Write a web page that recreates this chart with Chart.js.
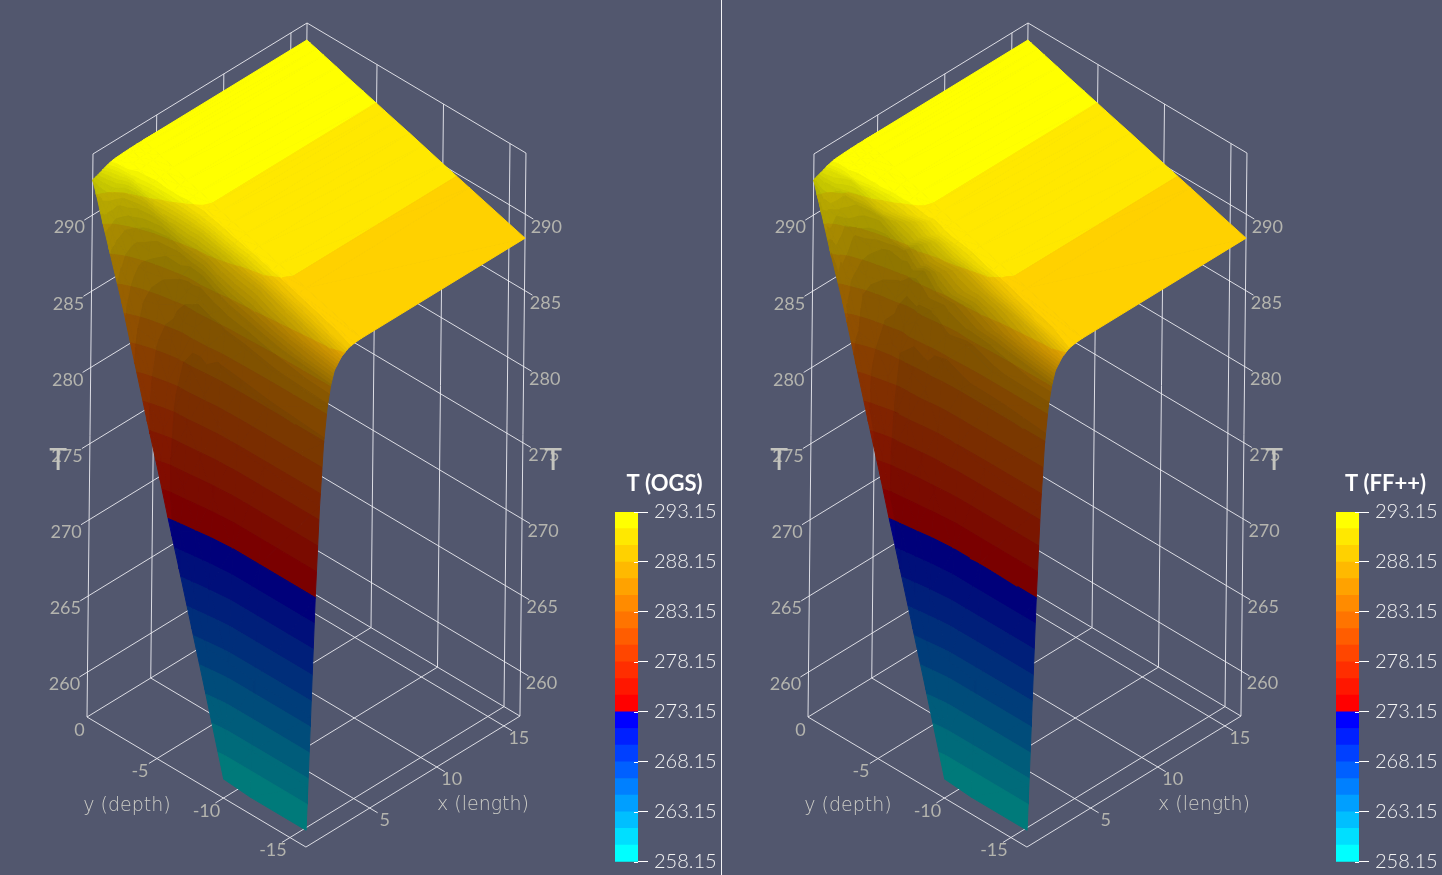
<!DOCTYPE html>
<html lang="en">

<head>
	<meta charset="UTF-8">
	<title>T (OGS) / T (FF++)</title>
	<script src="https://cdn.jsdelivr.net/npm/chart.js"></script>
	<style>
		html, body { margin: 0; height: 100%; overflow: hidden; background: #52576e; }
		canvas { position: absolute; display: block; }
		#divider { position: absolute; left: 721px; top: 0; width: 1px; height: 875px; background: #f4f4f6; }
	</style>
</head>

<body>

	<canvas id="surfaceOGS" width="721" height="875" style="left:0;top:0"></canvas>
	<canvas id="surfaceFF" width="721" height="875" style="left:721px;top:0"></canvas>
	<div id="divider"></div>
	<canvas id="barOGS" width="120" height="420" style="left:605px;top:465px"></canvas>
	<canvas id="barFF" width="120" height="420" style="left:1326px;top:465px"></canvas>

	<script>
		// grid of the surface
		const xs = [0.25, 0.35, 0.5, 0.75, 1, 1.25, 1.5, 1.75, 2, 2.5, 3, 3.5, 4, 16.2]
		const ys = [0.26, 0, -0.5, -1, -2, -3, -4, -5, -5.6, -6.5, -7.5, -8.5, -10, -12, -16.2]

		// temperature, one row per y
		const tempOGS = [
			[292.3, 292.35, 292.4, 292.48, 292.58, 292.68, 292.75, 292.81, 292.84, 292.87, 292.89, 292.9, 292.9, 292.9],
			[291.6, 291.7, 291.85, 292.07, 292.28, 292.44, 292.56, 292.66, 292.72, 292.78, 292.81, 292.83, 292.83, 292.83],
			[290, 290.22, 290.54, 291.03, 291.49, 291.84, 292.11, 292.32, 292.46, 292.59, 292.66, 292.69, 292.7, 292.7],
			[288.5, 288.82, 289.31, 290.04, 290.73, 291.26, 291.67, 291.99, 292.19, 292.4, 292.5, 292.54, 292.56, 292.56],
			[285.5, 286.04, 286.86, 288.08, 289.23, 290.12, 290.8, 291.34, 291.68, 292.02, 292.19, 292.26, 292.29, 292.29],
			[282.1, 282.9, 284.1, 285.9, 287.6, 288.8, 289.8, 290.6, 291.1, 291.6, 291.8, 291.9, 292, 292],
			[278.7, 279.7, 281.3, 283.7, 285.9, 287.6, 288.9, 289.9, 290.6, 291.2, 291.5, 291.7, 291.74, 291.74],
			[275.4, 276.7, 278.6, 281.5, 284.2, 286.3, 287.9, 289.2, 290, 290.8, 291.2, 291.4, 291.47, 291.47],
			[273.3, 274.7, 276.9, 280.1, 283.2, 285.5, 287.3, 288.8, 289.7, 290.6, 291, 291.2, 291.3, 291.3],
			[270.3, 272.7, 275.5, 279.5, 283, 285.6, 287.4, 288.7, 289.6, 290.4, 290.8, 291, 291.06, 291.06],
			[266.9, 269.4, 273.15, 277.8, 281.8, 284.9, 286.9, 288.2, 289.1, 290.1, 290.5, 290.7, 290.8, 290.8],
			[263.5, 266.1, 270, 275.8, 280.4, 284, 286.2, 287.7, 288.6, 289.6, 290.2, 290.4, 290.52, 290.52],
			[258.3, 261.3, 265.8, 273.15, 279.6, 283.6, 285.9, 287.3, 288.2, 289.3, 289.8, 290, 290.1, 290.1],
			[258.15, 261.1, 265.6, 273.15, 279.4, 283.3, 285.5, 286.9, 287.8, 288.8, 289.3, 289.5, 289.56, 289.56],
			[258.15, 261, 265.5, 273.15, 279, 283, 285.3, 286.6, 287.4, 288, 288.3, 288.4, 288.43, 288.43],
		]

		// same grid, the mesh is rougher here
		const tempFF = [
			[292.3, 292.35, 292.42, 292.5, 292.58, 292.7, 292.75, 292.82, 292.84, 292.87, 292.89, 292.9, 292.9, 292.9],
			[291.5, 291.72, 291.8, 292.1, 292.22, 292.48, 292.52, 292.7, 292.7, 292.8, 292.8, 292.83, 292.83, 292.83],
			[290, 290.1, 290.7, 290.9, 291.6, 291.7, 292.2, 292.25, 292.5, 292.56, 292.67, 292.69, 292.7, 292.7],
			[288.4, 289, 289.1, 290.3, 290.5, 291.45, 291.5, 292.1, 292.1, 292.44, 292.48, 292.55, 292.56, 292.56],
			[285.5, 285.9, 287.1, 287.8, 289.5, 289.9, 291, 291.2, 291.8, 291.95, 292.22, 292.25, 292.29, 292.29],
			[282.1, 283.1, 283.9, 286.2, 287.3, 289.1, 289.6, 290.8, 291, 291.7, 291.75, 291.95, 292, 292],
			[278.7, 279.5, 281.6, 283.4, 286.2, 287.3, 289.2, 289.7, 290.8, 291.1, 291.55, 291.66, 291.74, 291.74],
			[275.4, 276.9, 278.3, 281.9, 283.9, 286.7, 287.6, 289.5, 289.8, 291, 291.1, 291.43, 291.47, 291.47],
			[273.3, 274.5, 277.2, 279.8, 283.6, 285.2, 287.7, 288.5, 290, 290.4, 291.1, 291.15, 291.3, 291.3],
			[270.3, 272.9, 275.2, 279.9, 282.7, 286, 287.1, 289, 289.4, 290.5, 290.75, 291.02, 291.06, 291.06],
			[266.9, 269.2, 273.4, 277.5, 282.2, 284.6, 287.2, 288, 289.3, 290, 290.55, 290.68, 290.8, 290.8],
			[263.5, 266.3, 269.8, 276.1, 280.1, 284.3, 285.9, 287.9, 288.4, 289.75, 290.1, 290.44, 290.52, 290.52],
			[258.3, 261.2, 265.9, 273, 279.8, 283.4, 286.1, 287.1, 288.4, 289.2, 289.85, 289.98, 290.1, 290.1],
			[258.15, 261.1, 265.6, 273.25, 279.3, 283.4, 285.4, 287, 287.7, 288.85, 289.27, 289.51, 289.56, 289.56],
			[258.15, 261, 265.5, 273.1, 279, 283, 285.3, 286.6, 287.4, 288, 288.3, 288.4, 288.43, 288.43],
		]

		// colour scale
		const bandEdges = [258.15, 259.82, 261.48, 263.15, 264.82, 266.48, 268.15, 269.82, 271.48, 273.15, 274.82,
			276.48, 278.15, 279.82, 281.48, 283.15, 284.82, 286.48, 288.15, 289.82, 291.48, 293.15]
		const bandColors = ['#00ffff', '#00dfff', '#00bfff', '#009fff', '#0080ff', '#0060ff', '#0040ff', '#0020ff', '#0000ff',
			'#ff0000', '#ff1700', '#ff2e00', '#ff4600', '#ff5d00', '#ff7400', '#ff8b00', '#ffa200', '#ffb900', '#ffd100', '#ffe800', '#ffff00']
		const barTicks = [258.15, 263.15, 268.15, 273.15, 278.15, 283.15, 288.15, 293.15]

		// axes of the box
		const xTicks = [5, 10, 15]
		const yTicks = [0, -5, -10, -15]
		const zTicks = [260, 265, 270, 275, 280, 285, 290]
		const box = { x0: 0.25, x1: 16.2, y0: -16.2, y1: 0.26, z0: 257.05, z1: 294.02 }

		// camera: parallel projection of the box, in canvas pixels
		function project(x, y, z) {
			const u = x - box.x0, q = box.y1 - y, h = z - box.z0
			return {
				x: 87 + 13.42 * u + 13.3 * q + 0.162 * h,
				y: 717 - 8.21 * u + 7.9 * q - 15.23 * h
			}
		}

		function clipHalf(poly, key, val, above) {
			const out = []
			for (let i = 0; i < poly.length; i++) {
				const a = poly[i], b = poly[(i + 1) % poly.length]
				const ina = above ? a[key] >= val : a[key] <= val
				const inb = above ? b[key] >= val : b[key] <= val
				if (ina) out.push(a)
				if (ina != inb) {
					const t = (val - a[key]) / (b[key] - a[key])
					out.push({
						x: a.x + (b.x - a.x) * t, y: a.y + (b.y - a.y) * t,
						T: a.T + (b.T - a.T) * t, s: a.s + (b.s - a.s) * t
					})
				}
			}
			return out
		}

		function clipRange(poly, key, lo, hi) {
			return clipHalf(clipHalf(poly, key, lo, true), key, hi, false)
		}

		// light comes from above and a bit from the -y side, steep walls stay at the ambient level
		function shadeAt(temp, j, i) {
			const i0 = Math.max(i - 1, 0), i1 = Math.min(i + 1, xs.length - 1)
			const j0 = Math.max(j - 1, 0), j1 = Math.min(j + 1, ys.length - 1)
			const Tx = (temp[j][i1] - temp[j][i0]) / (xs[i1] - xs[i0])
			const Ty = (temp[j1][i] - temp[j0][i]) / (ys[j1] - ys[j0])
			const N = Math.sqrt(1 + Tx * Tx + Ty * Ty)
			const v = Math.min(1, (1 + 0.25 * Ty) / N / 0.98)
			return 0.48 + 0.52 * Math.max(0, (v - 0.1) / 0.9)
		}

		// soften the node shades a little, the grid is coarser than the mesh
		function shadeGrid(temp, passes) {
			let g = ys.map((_, j) => xs.map((_, i) => shadeAt(temp, j, i)))
			for (let p = 0; p < passes; p++) {
				g = g.map((row, j) => row.map((v, i) => {
					const l = row[Math.max(i - 1, 0)], r = row[Math.min(i + 1, xs.length - 1)]
					const u = g[Math.max(j - 1, 0)][i], d = g[Math.min(j + 1, ys.length - 1)][i]
					return (4 * v + l + r + u + d) / 8
				}))
			}
			return g
		}

		function shadeColor(hex, s) {
			const r = parseInt(hex.slice(1, 3), 16), g = parseInt(hex.slice(3, 5), 16), b = parseInt(hex.slice(5, 7), 16)
			return 'rgb(' + Math.round(r * s) + ',' + Math.round(g * s) + ',' + Math.round(b * s) + ')'
		}

		function surfaceDatasets(temp, passes) {
			const shade = shadeGrid(temp, passes)
			const tris = []
			for (let j = 0; j < ys.length - 1; j++) {
				for (let i = 0; i < xs.length - 1; i++) {
					const n = (jj, ii) => ({ x: xs[ii], y: ys[jj], T: temp[jj][ii], s: shade[jj][ii] })
					const a = n(j, i), b = n(j, i + 1), c = n(j + 1, i + 1), d = n(j + 1, i)
					tris.push([a, b, c], [a, c, d])
				}
			}
			// nearest first: chart.js paints the first dataset last
			const depth = t => t[0].x + t[1].x + t[2].x + t[0].y + t[1].y + t[2].y
			tris.sort((p, q) => depth(p) - depth(q))

			const sets = []
			const step = 0.03, levels = 18
			tris.forEach(tri => {
				for (let b = 0; b < bandColors.length; b++) {
					const lo = b == 0 ? 0 : bandEdges[b], hi = b == bandColors.length - 1 ? 400 : bandEdges[b + 1]
					const part = clipRange(tri, 'T', lo, hi)
					if (part.length < 3) continue
					for (let k = 0; k < levels; k++) {
						// top level is the plain colour
						const s0 = k == 0 ? 0 : 0.46 + k * step, s1 = k == levels - 1 ? 2 : 0.46 + (k + 1) * step
						const piece = clipRange(part, 's', s0, s1)
						if (piece.length < 3) continue
						const col = shadeColor(bandColors[b], k == levels - 1 ? 1 : k == 0 ? 0.48 : 0.46 + (k + 0.5) * step)
						const pts = piece.map(v => project(v.x, v.y, v.T))
						pts.push(pts[0])
						sets.push({
							data: pts, showLine: true, fill: 'shape', pointRadius: 0, tension: 0,
							backgroundColor: col, borderColor: col, borderWidth: 1
						})
					}
				}
			})
			return sets
		}

		function gridDatasets() {
			const out = [], { x0, x1, y0, y1, z0, z1 } = box
			const seg = (p, q) => out.push({
				data: [project(...p), project(...q)], showLine: true, pointRadius: 0, fill: false,
				borderColor: 'rgba(236,236,242,0.9)', borderWidth: 1
			})
			const tick = 0.6
			zTicks.forEach(z => {
				seg([x0 - tick, y1, z], [x1, y1, z])
				seg([x1, y1, z], [x1, y0 - tick, z])
			})
			xTicks.forEach(x => {
				seg([x, y1, z0], [x, y1, z1])
				seg([x, y1, z0], [x, y0 - tick, z0])
			})
			yTicks.slice(1).forEach(y => {
				seg([x1, y, z0], [x1, y, z1])
				seg([x0 - tick, y, z0], [x1, y, z0])
			})
			seg([x0, y1, z0], [x0, y1, z1])
			seg([x1, y0, z0], [x1, y0, z1])
			seg([x1, y1, z0], [x1, y1, z1])
			seg([x0, y1, z1], [x1, y1, z1])
			seg([x1, y1, z1], [x1, y0, z1])
			seg([x0, y1, z0], [x0, y0, z0])
			seg([x0, y0, z0], [x1, y0, z0])
			seg([x0, y1, z0], [x1, y1, z0])
			seg([x1, y1, z0], [x1, y0, z0])
			return out
		}

		// axis texts sit next to the projected tick
		const axisLabels = {
			id: 'axisLabels',
			afterDatasetsDraw(chart) {
				const c = chart.ctx, sx = chart.scales.x, sy = chart.scales.y
				const text = (s, p, dx, dy) => c.fillText(s, sx.getPixelForValue(p.x) + dx, sy.getPixelForValue(p.y) + dy)
				c.save()
				c.fillStyle = '#b4b4ae'
				c.textAlign = 'center'
				c.textBaseline = 'middle'
				c.font = '18px Lato'
				zTicks.forEach(z => {
					text(String(z), project(box.x0, box.y1, z), -23, 12.5)
					text(String(z), project(box.x1, box.y0, z), 21, 12.5)
				})
				yTicks.forEach(y => text(String(y), project(box.x0, y, box.z0), y == 0 ? -11 : -17, y == 0 ? 11 : 13))
				xTicks.forEach(x => text(String(x), project(x, box.y0, box.z0), 15, 12))
				c.fillStyle = '#cdcdc7'
				c.font = '200 19px "DejaVu Sans"'
				text('y (depth)', { x: 127, y: 806 }, 0, 0)
				text('x (length)', { x: 483, y: 805 }, 0, 0)
				c.fillStyle = '#c4c4be'
				c.font = '30px Lato'
				text('T', { x: 58, y: 460 }, 0, 0)
				text('T', { x: 553, y: 460 }, 0, 0)
				c.restore()
			}
		}

		function drawSurface(id, temp, passes) {
			new Chart(document.getElementById(id), {
				type: 'scatter',
				data: { datasets: surfaceDatasets(temp, passes).concat(gridDatasets()) },
				options: {
					responsive: false,
					animation: false,
					parsing: false,
					events: [],
					layout: { padding: 0 },
					plugins: { legend: { display: false }, tooltip: { enabled: false } },
					scales: {
						x: { type: 'linear', display: false, min: 0, max: 721 },
						y: { type: 'linear', display: false, min: 0, max: 875, reverse: true }
					}
				},
				plugins: [axisLabels]
			})
		}

		// tick marks of the colour bar reach a little into the bar, title above it
		const barExtras = {
			id: 'barExtras',
			afterDatasetsDraw(chart, args, opts) {
				const c = chart.ctx, a = chart.chartArea, sy = chart.scales.y
				c.save()
				c.strokeStyle = '#ffffff'
				c.lineWidth = 1
				barTicks.forEach(v => {
					const p = Math.round(sy.getPixelForValue(v)) + 0.5
					c.beginPath()
					c.moveTo(a.right - 4, p)
					c.lineTo(a.right, p)
					c.stroke()
				})
				c.fillStyle = '#ffffff'
				c.font = 'bold 22px Lato'
				c.textAlign = 'center'
				c.textBaseline = 'middle'
				c.fillText(opts.text, a.left + 49.5, a.top - 28)
				c.restore()
			}
		}

		function drawBar(id, title) {
			new Chart(document.getElementById(id), {
				type: 'bar',
				data: {
					labels: ['T'],
					datasets: bandColors.map((col, i) => ({
						data: [[bandEdges[i], bandEdges[i + 1]]],
						backgroundColor: col,
						borderWidth: 0,
						grouped: false,
						barPercentage: 1,
						categoryPercentage: 1
					}))
				},
				options: {
					responsive: false,
					animation: false,
					events: [],
					layout: { padding: { left: 10, right: 0, top: 47, bottom: 23.3 } },
					plugins: {
						legend: { display: false },
						tooltip: { enabled: false },
						barExtras: { text: title }
					},
					scales: {
						x: { display: false },
						y: {
							position: 'right',
							min: 258.15,
							max: 293.15,
							afterBuildTicks: s => { s.ticks = barTicks.map(v => ({ value: v })) },
							afterFit: s => { s.width = 87 },
							border: { display: false },
							grid: { drawOnChartArea: false, tickLength: 10, color: '#ffffff' },
							ticks: {
								color: '#f4f4f4', padding: 6, autoSkip: false,
								font: { family: 'Lato', size: 20, weight: '300' },
								callback: v => v.toFixed(2)
							}
						}
					}
				},
				plugins: [barExtras]
			})
		}

		drawSurface('surfaceOGS', tempOGS, 2)
		drawSurface('surfaceFF', tempFF, 1)
		drawBar('barOGS', 'T (OGS)')
		drawBar('barFF', 'T (FF++)')
	</script>

</body>

</html>
